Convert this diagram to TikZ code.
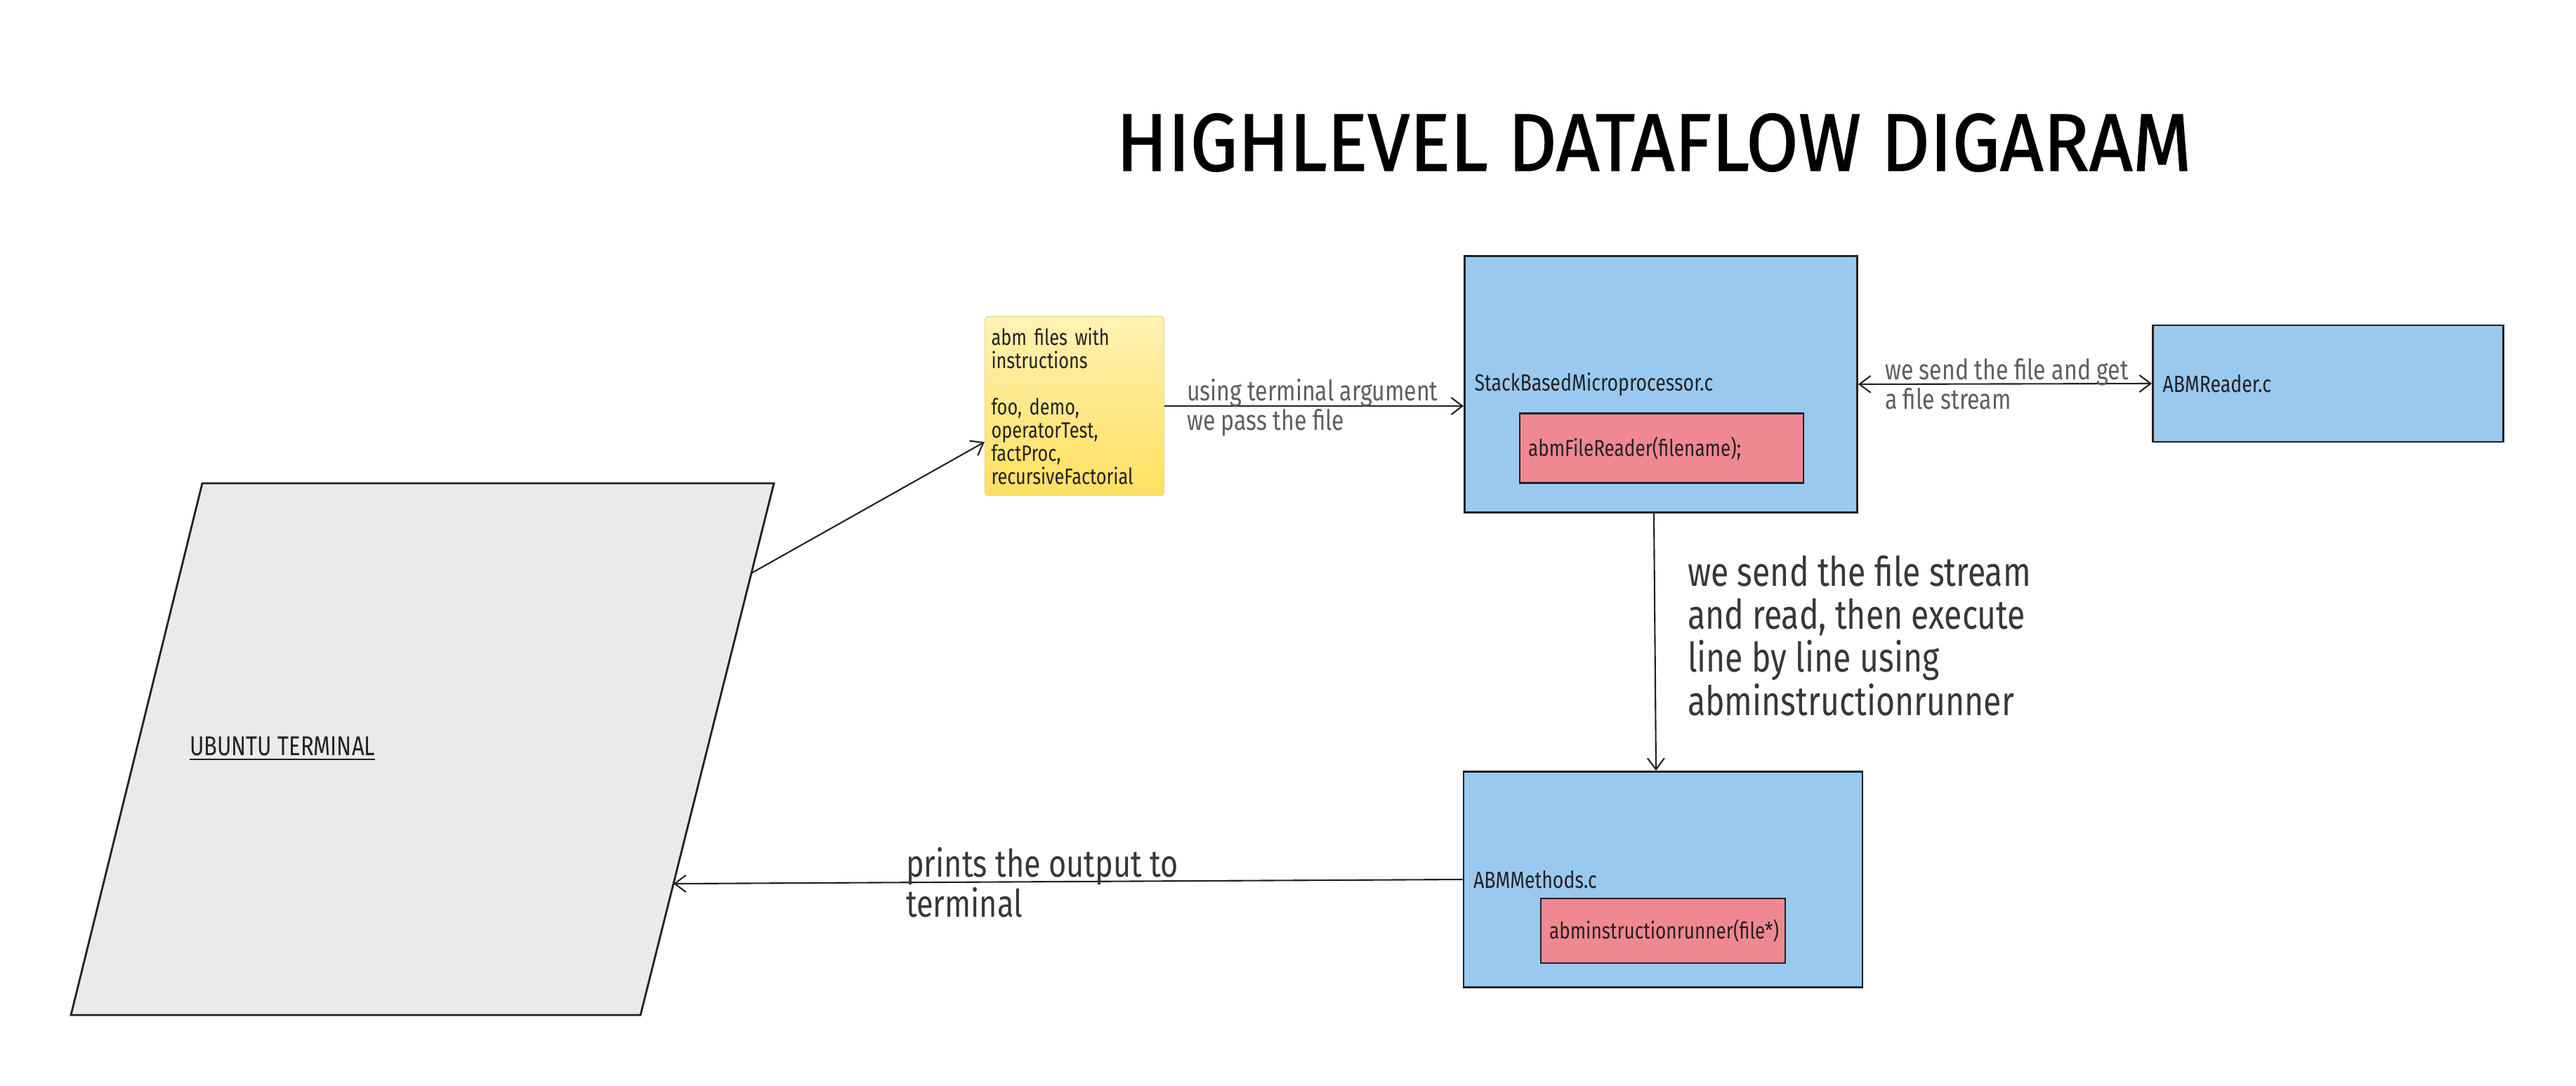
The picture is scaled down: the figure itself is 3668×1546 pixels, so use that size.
\documentclass[tikz,border=0pt]{standalone}
\usepackage{fontspec}
\setmainfont{Fira Sans}[FakeStretch=0.8]
\newfontfamily\titlefont{Fira Sans}[FakeStretch=0.93, FakeBold=1.2]
\usepackage{tikz}
\usetikzlibrary{arrows.meta,calc,positioning}

\definecolor{boxblue}{RGB}{153,201,239}
\definecolor{boxred}{RGB}{240,136,145}
\definecolor{termgrey}{RGB}{234,234,234}
\definecolor{notetop}{RGB}{255,242,180}
\definecolor{notebot}{RGB}{255,224,95}
\definecolor{noteline}{RGB}{238,214,140}
\definecolor{inkdark}{RGB}{34,34,34}
\definecolor{labelgrey}{RGB}{95,95,95}
\definecolor{bigtext}{RGB}{55,55,55}

\tikzset{
  blockbox/.style={draw=inkdark, line width=0.8pt, fill=boxblue, align=left,
    inner xsep=1.4mm, font=\fontsize{9.5}{11}\selectfont},
  funcbox/.style={draw=inkdark, line width=0.8pt, fill=boxred, align=left,
    inner xsep=1.2mm, font=\fontsize{9.3}{11}\selectfont},
  notebox/.style={draw=noteline, line width=0.4pt, rounded corners=0.5mm,
    top color=notetop, bottom color=notebot, align=left, inner xsep=0.9mm,
    font=\fontsize{9}{9.4}\selectfont},
  smalllabel/.style={text=labelgrey, align=left, inner sep=0pt,
    font=\fontsize{11.4}{12}\selectfont},
  biglabel/.style={text=bigtext, align=left, inner sep=0pt,
    font=\fontsize{16.5}{17.4}\selectfont}
}

\begin{document}
\begin{tikzpicture}[x=0.1mm, y=-0.1mm, >={Straight Barb[length=1.6mm,width=2.4mm]},
  color=inkdark, line width=0.6pt]

  \useasboundingbox (0,0) rectangle (3668,1546);

  \node [font=\titlefont\fontsize{33}{36}\selectfont, text=black] (title) at (2355,203)
    {HIGHLEVEL DATAFLOW DIGARAM};

  % terminal
  \coordinate (t-nw) at (288,688);
  \coordinate (t-ne) at (1102,688);
  \coordinate (t-se) at (912,1445);
  \coordinate (t-sw) at (101,1445);
  \draw [fill=termgrey, line width=0.8pt] (t-nw) -- (t-ne) -- (t-se) -- (t-sw) -- cycle;
  \node [anchor=west, inner sep=0pt, font=\fontsize{11}{12}\selectfont] (term) at (269,1066)
    {\underline{UBUNTU TERMINAL}};
  \coordinate (term-out) at ($(t-ne)!0.169!(t-se)$);
  \coordinate (term-in) at ($(t-ne)!0.753!(t-se)$);

  % files
  \node [notebox, minimum width=25.5mm, minimum height=25.5mm, text width=23.7mm] (note) at (1530,578)
    {abm files with\\ instructions\\ ~\\ foo, demo,\\ operatorTest,\\ factProc,\\ recursiveFactorial};
  \coordinate (note-in) at ($(note.south west)!0.3!(note.north west)$);

  % sources
  \node [blockbox, minimum width=55.9mm, minimum height=36.5mm, text width=53.1mm] (sbm) at (2365,547)
    {StackBasedMicroprocessor.c};
  \node [funcbox, minimum width=40.4mm, minimum height=9.9mm, text width=38.0mm] (reader-fn) at (2366,638)
    {abmFileReader(filename);};
  \node [blockbox, minimum width=49.9mm, minimum height=16.6mm, text width=47.1mm] (reader) at (3315,546)
    {ABMReader.c};
  \node [blockbox, minimum width=56.8mm, minimum height=30.7mm, text width=54.0mm] (methods) at (2368,1252)
    {ABMMethods.c};
  \node [funcbox, minimum width=34.8mm, minimum height=9.2mm, text width=32.4mm] (runner) at (2368,1325)
    {abminstructionrunner(file*)};

  % flow
  \draw [->] (term-out) -- (note-in);
  \draw [->] (note.east) -- (note.east -| sbm.west);
  \draw [<->] (sbm.east) -- (reader.west);
  \draw [->] ($(sbm.south)+(-10,0)$) -- ($(methods.north)+(-10,0)$);
  \draw [->] (methods.west) -- (term-in);

  \node [smalllabel, anchor=west] (pass-lbl) at (1689,580) {using terminal argument\\ we pass the file};
  \node [smalllabel, anchor=west] (stream-lbl) at (2683,547) {we send the file and get\\ a file stream};
  \node [biglabel, anchor=west] (run-lbl) at (2402,905)
    {we send the file stream\\ and read, then execute\\ line by line using\\ abminstructionrunner};
  \node [text=bigtext, align=left, inner sep=0pt, font=\fontsize{15.4}{16.2}\selectfont, anchor=west] (print-lbl)
    at (1289,1256) {prints the output to\\ terminal};

\end{tikzpicture}
\end{document}
